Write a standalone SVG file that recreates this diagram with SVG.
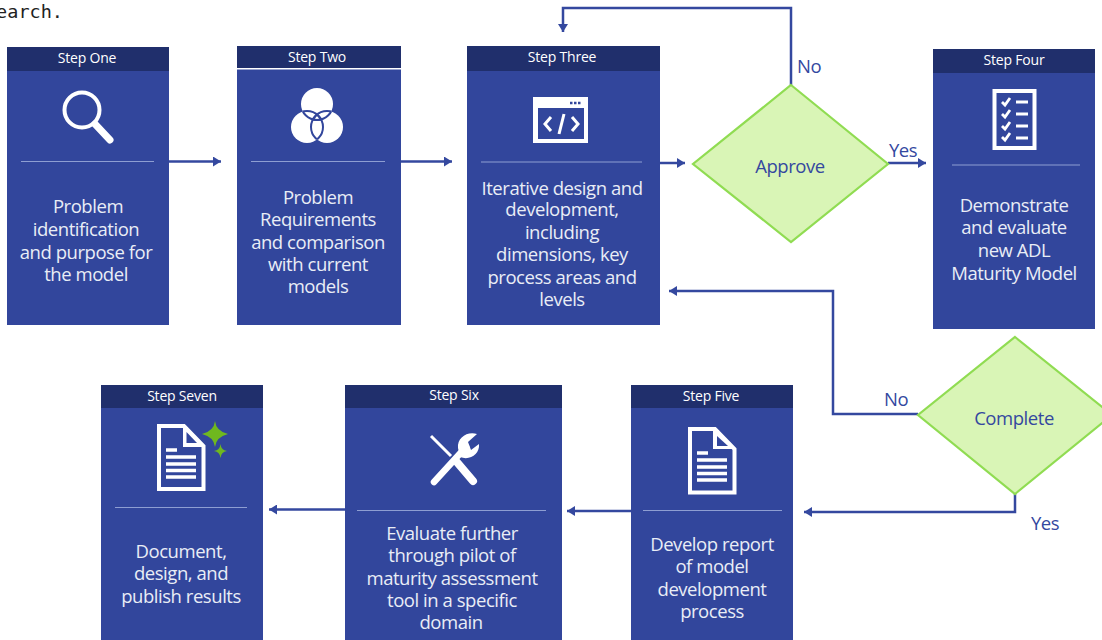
<svg xmlns="http://www.w3.org/2000/svg" width="1102" height="640" viewBox="0 0 1102 640">
<style>
text{font-family:"Open Sans","Noto Sans","Liberation Sans",sans-serif;text-anchor:middle}
.b{fill:#32469c}.h{fill:#202f6c}
.t{fill:#fff;font-size:14px;letter-spacing:-.2px}
.x{fill:#e9edf6;font-size:18.500px;letter-spacing:-.45px}
.d{stroke:#8e9ed2;stroke-width:1;fill:none}
.c{fill:none;stroke:#34489f;stroke-width:2.500}
.dm{fill:#d9f5b6;stroke:#90dc52;stroke-width:2.200}
.l{fill:#34489f;font-size:18.500px;letter-spacing:-.45px}
.w{fill:none;stroke:#fff}
.f{fill:#fff}
.bl{stroke:#32469c;fill:none}
</style>
<defs>
<marker id="a" markerUnits="userSpaceOnUse" markerWidth="9" markerHeight="10" refX="8" refY="5" orient="auto"><path d="M0 0L8 5L0 10Z" fill="#34489f"/></marker>
<clipPath id="c1"><circle cx="317" cy="104" r="16"/></clipPath>
<clipPath id="c2"><circle cx="307" cy="127" r="16"/></clipPath>
<clipPath id="c3"><circle cx="327" cy="127" r="16"/></clipPath>
<g id="lines"><path d="M0 0H11M0 7H30M0 14H30M0 20.500H30M0 27H30" stroke="#fff" stroke-width="3.400" fill="none"/></g>
</defs>
<text x="-3.900" y="18" style="font-family:'DejaVu Sans Mono',monospace;font-size:18.500px;text-anchor:start;fill:#222">earch.</text>

<g id="connectors" class="c">
<path marker-end="url(#a)" d="M169 161.500H221"/>
<path marker-end="url(#a)" d="M401 161.500H452"/>
<path marker-end="url(#a)" d="M660 163H685"/>
<path marker-end="url(#a)" d="M888 163H926"/>
<path marker-end="url(#a)" d="M791 85V8H563V32"/>
<path marker-end="url(#a)" d="M918 414H833V291H669"/>
<path marker-end="url(#a)" d="M1015 494V512H804"/>
<path marker-end="url(#a)" d="M631 511H567"/>
<path marker-end="url(#a)" d="M345 509.500H269"/>
</g>

<g id="step1">
<rect class="b" x="7" y="47" width="162" height="278"/><rect class="h" x="7" y="47" width="162" height="24"/>
<text class="t" x="87" y="63">Step One</text>
<circle class="w" cx="82" cy="110" r="17.500" stroke-width="4"/><path class="w" d="M95 124L110 140" stroke-width="7" stroke-linecap="round"/>
<path class="d" d="M21 161.500H154"/>
<text class="x" x="88" y="213">Problem</text><text class="x" x="86" y="236">identification</text><text class="x" x="86" y="259">and purpose for</text><text class="x" x="86" y="281">the model</text>
</g>
<g id="step2">
<rect class="b" x="237" y="46" width="164" height="279"/><rect class="h" x="237" y="46" width="164" height="22"/><rect x="237" y="68" width="164" height="1.500" fill="#fff"/>
<text class="t" x="317" y="62">Step Two</text>
<circle class="f" cx="317" cy="104" r="16"/><circle class="f" cx="307" cy="127" r="16"/><circle class="f" cx="327" cy="127" r="16"/>
<g class="bl" stroke-width="2">
<g clip-path="url(#c2)"><circle cx="317" cy="104" r="16"/></g><g clip-path="url(#c3)"><circle cx="317" cy="104" r="16"/></g>
<g clip-path="url(#c1)"><circle cx="307" cy="127" r="16"/></g><g clip-path="url(#c3)"><circle cx="307" cy="127" r="16"/></g>
<g clip-path="url(#c1)"><circle cx="327" cy="127" r="16"/></g><g clip-path="url(#c2)"><circle cx="327" cy="127" r="16"/></g>
</g>
<path class="d" d="M251 161.500H385"/>
<text class="x" x="318" y="204">Problem</text><text class="x" x="318" y="226">Requirements</text><text class="x" x="318" y="249">and comparison</text><text class="x" x="318" y="271">with current</text><text class="x" x="318" y="293">models</text>
</g>
<g id="step3">
<rect class="b" x="467" y="46" width="193" height="279"/><rect class="h" x="467" y="46" width="193" height="25"/>
<text class="t" x="562" y="62">Step Three</text>
<rect class="f" x="533" y="97" width="55" height="46"/><rect class="b" x="538" y="108" width="46" height="31"/>
<path d="M570 103H581" stroke="#32469c" stroke-width="2.500" stroke-dasharray="2.500 1.500" fill="none"/>
<path class="w" d="M551 117L545 124L551 131M572 117L578 124L572 131M564 114L559 134" stroke-width="3"/>
<path class="d" d="M481 162H642"/>
<text class="x" x="562" y="195">Iterative design and</text><text class="x" x="562" y="216">development,</text><text class="x" x="562" y="239">including</text><text class="x" x="562" y="261">dimensions, key</text><text class="x" x="562" y="284">process areas and</text><text class="x" x="562" y="306">levels</text>
</g>
<g id="approve">
<path class="dm" d="M791 85L888 164L791 242L693 164Z"/>
<text x="790" y="173" class="l">Approve</text>
</g>
<text class="l" x="809" y="73">No</text>
<text class="l" x="903" y="157">Yes</text>
<g id="step4">
<rect class="b" x="933" y="49" width="162" height="280"/><rect class="h" x="933" y="49" width="162" height="24"/>
<text class="t" x="1014" y="65">Step Four</text>
<rect x="994.500" y="91" width="40" height="57" fill="#32469c" stroke="#fff" stroke-width="4"/>
<path class="w" d="M1002 102L1005 105L1010 98M1002 114L1005 117L1010 110M1002 126L1005 129L1010 122M1002 137L1005 140L1010 133" stroke-width="2.800"/>
<path class="w" d="M1016 102H1028M1016 114H1028M1016 126H1028M1016 138H1028" stroke-width="3"/>
<path class="d" d="M952 165H1080"/>
<text class="x" x="1014" y="212">Demonstrate</text><text class="x" x="1014" y="234">and evaluate</text><text class="x" x="1014" y="257">new ADL</text><text class="x" x="1014" y="280">Maturity Model</text>
</g>
<g id="complete">
<path class="dm" d="M1015 337L1112 415L1015 494L918 415Z"/>
<text x="1014" y="425" class="l">Complete</text>
</g>
<text class="l" x="896" y="406">No</text>
<text class="l" x="1045" y="530">Yes</text>
<g id="step5">
<rect class="b" x="631" y="385" width="162" height="255"/><rect class="h" x="631" y="385" width="162" height="23"/>
<text class="t" x="711" y="401">Step Five</text>
<path d="M690 429H715L734.500 449V492.500H690Z" fill="#32469c" stroke="#fff" stroke-width="4"/>
<path class="f" d="M713 427L736 449H713Z"/><path class="b" d="M717 436L728 446H717Z"/>
<use href="#lines" x="697" y="453"/>
<path class="d" d="M643 510.500H782"/>
<text class="x" x="712" y="551">Develop report</text><text class="x" x="712" y="573">of model</text><text class="x" x="712" y="596">development</text><text class="x" x="712" y="618">process</text>
</g>
<g id="step6">
<rect class="b" x="345" y="385" width="217" height="255"/><rect class="h" x="345" y="385" width="217" height="23"/>
<text class="t" x="454" y="400">Step Six</text>
<path class="w" d="M431 436L451 456" stroke-width="3"/>
<path class="w" d="M456 461L473 481" stroke-width="8" stroke-linecap="round"/>
<path class="w" d="M434 482L466 447" stroke-width="6.500" stroke-linecap="round"/>
<path class="f" d="M458 448C457 438 467 431 477 434L468 442L471 450L479 444C480 454 470 461 460 457Z"/>
<path class="d" d="M357 510.500H546" stroke-width="1.500"/>
<text class="x" x="452" y="540">Evaluate further</text><text class="x" x="452" y="562">through pilot of</text><text class="x" x="452" y="585">maturity assessment</text><text class="x" x="452" y="607">tool in a specific</text><text class="x" x="451" y="629">domain</text>
</g>
<g id="step7">
<rect class="b" x="101" y="385" width="162" height="255"/><rect class="h" x="101" y="385" width="162" height="23"/>
<text class="t" x="182" y="401">Step Seven</text>
<path d="M159 426H184L203.500 446V489H159Z" fill="#32469c" stroke="#fff" stroke-width="4"/>
<path class="f" d="M183 424L205 447H183Z"/><path class="b" d="M186.500 432L197 443H186.500Z"/>
<use href="#lines" x="166" y="450"/>
<path fill="#6fb81f" d="M215 421Q216 431 228 434Q216 437 215 447Q214 437 202 434Q214 431 215 421ZM220.500 444Q221 450 227 451Q221 452 220.500 458Q220 452 214 451Q220 450 220.500 444Z"/>
<path class="d" d="M115 507.500H247"/>
<text class="x" x="181" y="558">Document,</text><text class="x" x="181" y="580">design, and</text><text class="x" x="181" y="603">publish results</text>
</g>
</svg>
